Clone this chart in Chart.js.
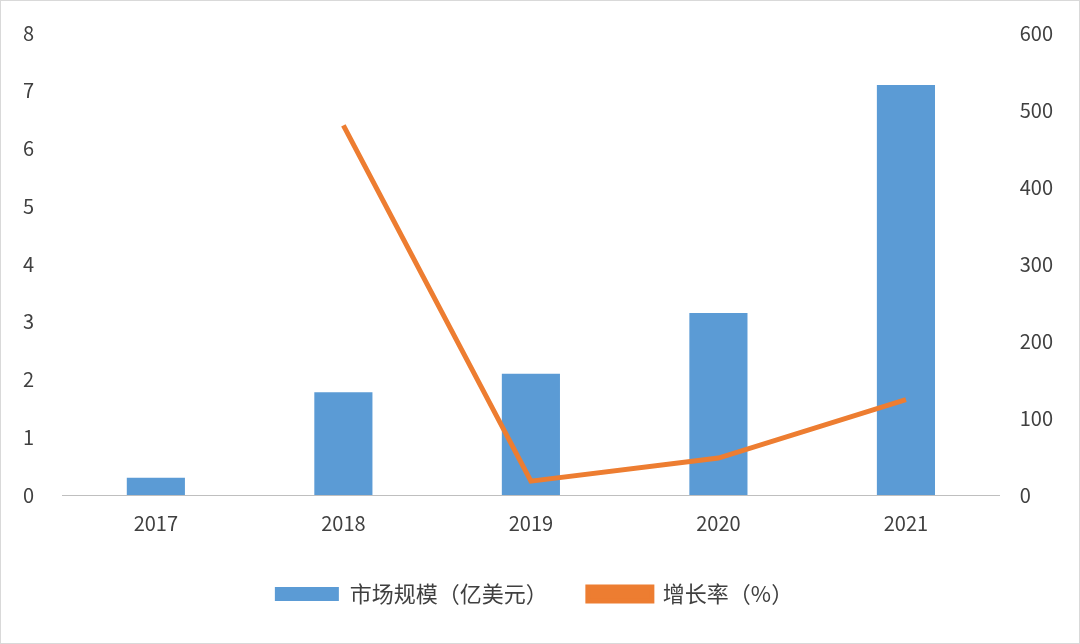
<!DOCTYPE html>
<html><head><meta charset="utf-8">
<script src="https://cdn.jsdelivr.net/npm/chart.js"></script>
<style>html,body{margin:0;padding:0;background:#fff}#w{width:1078px;height:642px;border:1px solid #d9d9d9}</style>
</head><body><div id="w"><canvas id="c" width="1078" height="642"></canvas></div>
<script>
const categories=["2017","2018","2019","2020","2021"];
const marketSize=[0.3,1.78,2.1,3.15,7.1];
const growthRate=[null,480,18,48,124];
const leftTicks=[0,1,2,3,4,5,6,7,8];
const rightTicks=[0,100,200,300,400,500,600];
const font={family:"'Noto Sans CJK SC','Noto Sans',sans-serif",size:20};
new Chart(document.getElementById('c'),{
data:{labels:categories,datasets:[
{type:'line',label:'增长率（%）',data:growthRate,yAxisID:'y1',borderColor:'#ed7d31',backgroundColor:'#ed7d31',borderWidth:5,pointRadius:0,tension:0,order:0},
{type:'bar',label:'市场规模（亿美元）',data:marketSize,yAxisID:'y',backgroundColor:'#5b9bd5',barPercentage:0.31,categoryPercentage:1,order:1}
]},
options:{responsive:false,animation:false,
layout:{padding:{left:2,right:14,top:11,bottom:28}},
plugins:{legend:{position:'bottom',reverse:true,labels:{font:{family:font.family,size:22},color:'#404040',boxWidth:64,boxHeight:14,padding:40}},tooltip:{enabled:false}},
scales:{
x:{grid:{display:false},border:{color:'#bfbfbf'},ticks:{font:font,color:'#404040',padding:8}},
y:{position:'left',min:0,max:8,afterBuildTicks:a=>{a.ticks=leftTicks.map(v=>({value:v}))},grid:{display:false},border:{display:false},ticks:{font:font,color:'#404040',padding:20}},
y1:{position:'right',min:0,max:600,afterBuildTicks:a=>{a.ticks=rightTicks.map(v=>({value:v}))},grid:{display:false},border:{display:false},ticks:{font:font,color:'#404040',padding:12}}
}}
});
</script></body></html>
